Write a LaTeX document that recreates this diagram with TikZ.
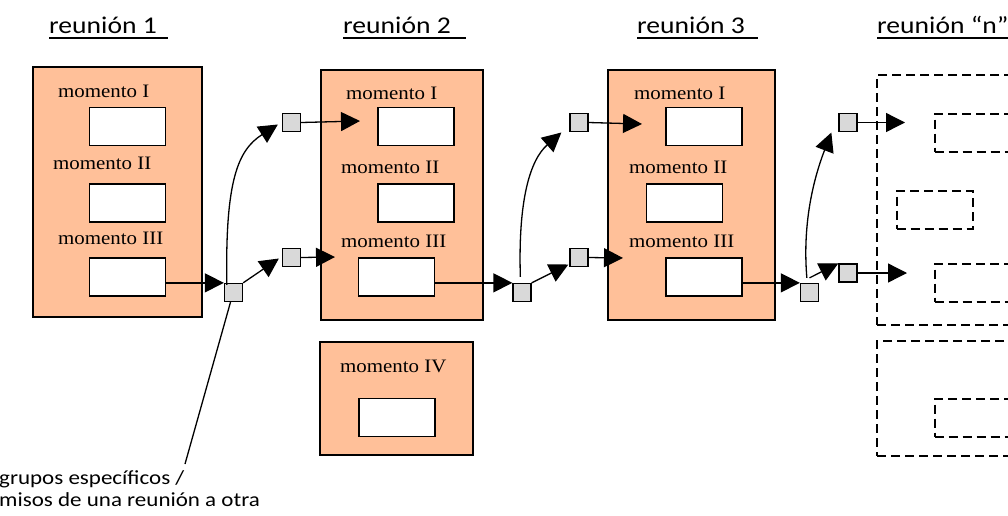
\documentclass[tikz,border=0pt]{standalone}
\usepackage{fontspec}
\setmainfont[FakeStretch=1.1]{Liberation Serif}
\newfontfamily\hdfont[FakeStretch=1.15]{Carlito}
\usetikzlibrary{arrows.meta,calc}
\definecolor{peach}{RGB}{255,192,153}
\definecolor{tokengrey}{RGB}{217,217,217}

\begin{document}
\begin{tikzpicture}[x=1pt,y=-1pt,
  meeting/.style={draw,line width=2pt,fill=peach,inner sep=0pt},
  slot/.style={draw,line width=1.4pt,fill=white,minimum width=76pt,minimum height=38pt,inner sep=0pt},
  ghost/.style={draw,line width=2pt,dash pattern=on 9pt off 5pt,inner sep=0pt},
  ghostslot/.style={draw,line width=2pt,dash pattern=on 9pt off 5pt,inner sep=0pt,minimum width=76pt,minimum height=38pt},
  token/.style={draw,line width=1.3pt,fill=tokengrey,minimum size=18pt,inner sep=0pt},
  lbl/.style={anchor=base west,inner sep=0pt,font=\fontsize{19}{22}\selectfont},
  head/.style={anchor=base west,inner sep=0pt,font=\hdfont\fontsize{24}{28}\selectfont},
  note/.style={anchor=base west,inner sep=0pt,font=\hdfont\fontsize{20}{22}\selectfont},
  flow/.style={line width=1.3pt,-{Triangle[length=19pt,width=19pt]}},
  uline/.style={line width=2pt},
  leader/.style={line width=1.3pt}
]
\useasboundingbox (0,0) rectangle (1008,515);
\clip (0,0) rectangle (1008,515);

% headings
\node[head] (h1) at (49,33) {reunión 1};
\node[head] (h2) at (343,33) {reunión 2};
\node[head] (h3) at (637,33) {reunión 3};
\node[head] (hn) at (877,33) {reunión “n”};
\draw[uline] (49,37.5) -- (168,37.5);
\draw[uline] (343,37.5) -- (466,37.5);
\draw[uline] (637,37.5) -- (758,37.5);
\draw[uline] (877,37.5) -- (1060,37.5);

% meeting 1
\node[meeting,minimum width=169pt,minimum height=250pt] (m1) at (117.5,192) {};
\node[lbl] (l1i) at (58,97) {momento I};
\node[lbl] (l1ii) at (53,169) {momento II};
\node[lbl] (l1iii) at (58,244) {momento III};
\node[slot] (b1i) at (127.5,126.5) {};
\node[slot] (b1ii) at (127.5,203) {};
\node[slot] (b1iii) at (127.5,277) {};

% meeting 2
\node[meeting,minimum width=162pt,minimum height=250pt] (m2) at (402,195) {};
\node[lbl] (l2i) at (346,99) {momento I};
\node[lbl] (l2ii) at (341,173) {momento II};
\node[lbl] (l2iii) at (341,247) {momento III};
\node[slot] (b2i) at (416,126.5) {};
\node[slot] (b2ii) at (416,203) {};
\node[slot] (b2iii) at (396.5,277) {};

\node[meeting,minimum width=153pt,minimum height=113pt] (m2b) at (396.5,398.5) {};
\node[lbl] (l2iv) at (340,372) {momento IV};
\node[slot] (b2iv) at (397,417.5) {};

% meeting 3
\node[meeting,minimum width=167pt,minimum height=250pt] (m3) at (691.5,195) {};
\node[lbl] (l3i) at (634,99) {momento I};
\node[lbl] (l3ii) at (629,173) {momento II};
\node[lbl] (l3iii) at (629,247) {momento III};
\node[slot] (b3i) at (704,126.5) {};
\node[slot] (b3ii) at (684.5,203) {};
\node[slot] (b3iii) at (704,277) {};

% meeting n (outline only)
\node[ghost,minimum width=223pt,minimum height=250pt] (mn) at (988.5,200) {};
\node[ghost,minimum width=223pt,minimum height=115pt] (mnb) at (988.5,398.5) {};
\node[ghostslot] (ni) at (972.5,132.5) {};
\node[ghostslot] (nii) at (934.5,209.5) {};
\node[ghostslot] (niii) at (972.5,282.5) {};
\node[ghostslot] (niv) at (972.5,417.5) {};

% tokens passed between meetings
\node[token] (s1) at (233.5,292.5) {};
\node[token] (u1) at (291.5,122.5) {};
\node[token] (d1) at (291.5,257.5) {};
\node[token] (s2) at (522,292.5) {};
\node[token] (u2) at (579,122.5) {};
\node[token] (d2) at (579,257.5) {};
\node[token] (s3) at (809.5,292.5) {};
\node[token] (u3) at (848,122.5) {};
\node[token] (d3) at (848,273) {};

% free arrow ends
\coordinate (e1u) at (360,121);
\coordinate (e1d) at (335,257);
\coordinate (e2u) at (642,124);
\coordinate (e2d) at (623,258);
\coordinate (e3u) at (905,122.5);
\coordinate (e3d) at (907,273);
\coordinate (tagend) at (185,464);

% flows out of meeting 1
\draw[flow] (b1iii.east |- s1.north) -- (s1.north west);
\draw[flow] ($(s1.north west)+(3,2)$) .. controls (225,180) and (238,150) .. ($(u1.west)+(-4,2)$);
\draw[flow] (s1.north east) -- ($(d1.west)+(-3,1)$);
\draw[flow] (u1.east) -- (e1u);
\draw[flow] (d1.east) -- (e1d);

% flows out of meeting 2
\draw[flow] (b2iii.east |- s2.north) -- (s2.north west);
\draw[flow] ($(s2.north west)+(8,-6)$) .. controls (518,200) and (530,160) .. ($(u2.west)+(-8,10)$);
\draw[flow] (s2.north east) -- ($(d2.west)+(-1,7)$);
\draw[flow] (u2.east) -- (e2u);
\draw[flow] (d2.east) -- (e2d);

% flows out of meeting 3
\draw[flow] (b3iii.east |- s3.north) -- (s3.north west);
\draw[flow] ($(s3.north west)+(7,-5)$) .. controls (802,220) and (815,175) .. ($(u3.west)+(-7,10)$);
\draw[flow] ($(s3.north)+(0,-5)$) -- (d3.north west);
\draw[flow] (u3.east) -- (e3u);
\draw[flow] (d3.east) -- (e3d);

% callout
\draw[leader] ($(s1.south)+(-3,0)$) -- (tagend);
\node[note] (t1) at (-1,484) {grupos específicos /};
\node[note] (t2) at (-1,506) {misos de una reunión a otra};
\end{tikzpicture}
\end{document}
